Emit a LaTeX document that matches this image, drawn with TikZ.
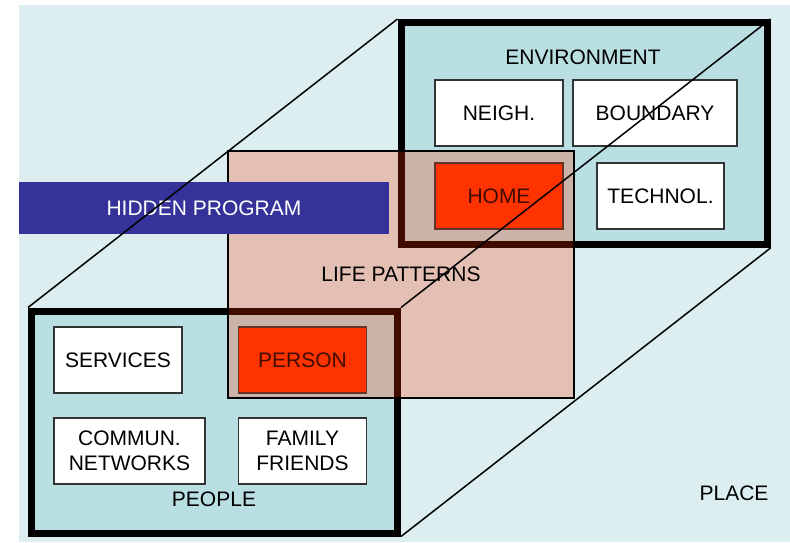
\documentclass[tikz,border=0pt]{standalone}
\usepackage{fontspec}
\setmainfont{Liberation Sans}
\definecolor{bgteal}{RGB}{220,238,240}
\definecolor{frameteal}{RGB}{185,223,226}
\definecolor{hot}{RGB}{255,51,0}
\definecolor{progblue}{RGB}{53,51,154}
\begin{document}
\begin{tikzpicture}[x=1pt, y=-1pt,
  every node/.style={font=\fontsize{21}{25}\selectfont, inner sep=0pt, align=center}
]
\tikzset{
  frame/.style={draw=black, line width=7pt, fill=frameteal, minimum width=366pt, minimum height=222pt},
  item/.style={draw=black!80, line width=1.2pt, fill=white, minimum width=128pt, minimum height=66pt},
  focus/.style={item, fill=hot},
  edge/.style={draw=black, line width=1.5pt}
}
\useasboundingbox (0,0) rectangle (790,542);
\fill[bgteal] (19,5) rectangle (790,542);

% ambiente (fundo)
\node[frame] (env) at (584,133.5) {};
\node (envlabel) at (583,57) {ENVIRONMENT};
\node[item] (neigh) at (499,113) {NEIGH.};
\node[item, minimum width=164pt] (boundary) at (655,113) {BOUNDARY};
\node[focus] (home) at (499,196) {HOME};
\node[item, minimum width=127pt] (technol) at (660.5,196) {TECHNOL.};

% pessoas (frente)
\node[frame] (people) at (214.5,422) {};
\node[item] (services) at (118,360) {SERVICES};
\node[focus] (person) at (302.5,360) {PERSON};
\node[item, minimum width=151pt] (commun) at (129.5,451) {COMMUN.\\NETWORKS};
\node[item] (family) at (302.5,451) {FAMILY\\FRIENDS};
\node (peoplelabel) at (214,499) {PEOPLE};

\node[draw=black, line width=1.5pt, fill=hot, fill opacity=0.25, text opacity=1,
      minimum width=346pt, minimum height=247pt] (life) at (401,274.5) {LIFE PATTERNS};

\node[fill=progblue, text=white, minimum width=370pt, minimum height=52pt] (hidden) at (204,208) {HIDDEN PROGRAM};

\draw[edge] (people.north west) -- (env.north west);
\draw[edge] (people.north east) -- (env.north east);
\draw[edge] (people.south east) -- (env.south east);

\node (place) at (734,493) {PLACE};
\end{tikzpicture}
\end{document}
